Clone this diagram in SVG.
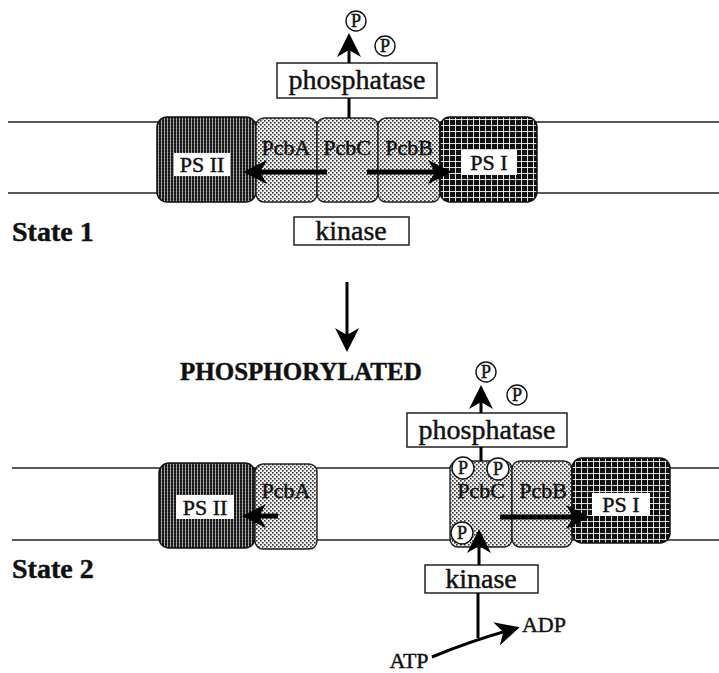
<svg xmlns="http://www.w3.org/2000/svg" width="719" height="673" viewBox="0 0 719 673">
<defs>
<style>
text{font-family:"Liberation Serif","Times New Roman",serif;fill:#111;stroke:#111;stroke-width:0.45}
.lbl{font-size:22px;text-anchor:middle}
.big{font-size:28px;text-anchor:middle}
.state{font-size:28px;font-weight:bold}
.pt{font-size:18px;text-anchor:middle}
.mem{stroke:#222;stroke-width:1.6;fill:none}
.box{fill:#fff;stroke:#222;stroke-width:1.5}
.wl{fill:#fff}
.ps2{fill:url(#pPS2);stroke:#111;stroke-width:1.5}
.ps1{fill:url(#pPS1);stroke:#111;stroke-width:1.5}
.pcb{fill:url(#pPCB);stroke:#222;stroke-width:1.4}
.pc{fill:#fff;stroke:#111;stroke-width:1.4}
.thick{stroke:#000;stroke-width:5;fill:none;marker-end:url(#ah)}
.thin{stroke:#000;stroke-width:3;fill:none;marker-end:url(#ah)}
.line{stroke:#000;stroke-width:3;fill:none}
</style>
<pattern id="pPS2" width="3" height="3" patternUnits="userSpaceOnUse">
<rect width="3" height="3" fill="#151515"/>
<rect x="2" width="1" height="3" fill="#fff" opacity="0.6"/>
<rect y="2" width="3" height="1" fill="#fff" opacity="0.12"/>
</pattern>
<pattern id="pPS1" width="6" height="6" patternUnits="userSpaceOnUse">
<rect width="6" height="6" fill="#111"/>
<rect x="5" width="1" height="6" fill="#fff" opacity="0.85"/>
<rect y="5" width="6" height="1" fill="#fff" opacity="0.85"/>
</pattern>
<pattern id="pPCB" width="4" height="4" patternUnits="userSpaceOnUse">
<rect width="4" height="4" fill="#f2f2f2"/>
<rect x="0" y="0" width="1.6" height="1.6" fill="#333"/>
<rect x="2" y="2" width="1.6" height="1.6" fill="#333"/>
</pattern>
<marker id="ah" markerUnits="userSpaceOnUse" markerWidth="26" markerHeight="26" refX="14" refY="12" orient="auto" viewBox="0 0 26 26">
<path d="M0,0 L24,12 L0,24 L7,12 z" fill="#000"/>
</marker>
</defs>
<rect width="719" height="673" fill="#fff"/>

<g id="membranes">
<line class="mem" x1="8" y1="122" x2="719" y2="122"/>
<line class="mem" x1="8" y1="193" x2="719" y2="193"/>
<line class="mem" x1="12" y1="468" x2="719" y2="468"/>
<line class="mem" x1="12" y1="540" x2="719" y2="540"/>
</g>

<g id="s1-ps2"><rect class="ps2" x="157" y="117" width="99" height="85" rx="10"/><rect class="wl" x="174" y="153" width="56" height="23"/><text class="lbl" x="202" y="172">PS II</text></g>
<g id="s1-pcba"><rect class="pcb" x="256" y="118" width="61" height="84" rx="8"/><text class="lbl" x="286" y="155">PcbA</text></g>
<g id="s1-pcbc"><rect class="pcb" x="317" y="118" width="61" height="84" rx="8"/><text class="lbl" x="347" y="155">PcbC</text></g>
<g id="s1-pcbb"><rect class="pcb" x="378" y="118" width="62" height="84" rx="8"/><text class="lbl" x="409" y="155">PcbB</text></g>
<g id="s1-ps1"><rect class="ps1" x="440" y="117" width="97" height="85" rx="10"/><rect class="wl" x="461" y="150" width="56" height="25"/><text class="lbl" x="489" y="170">PS I</text></g>
<g id="s1-phosphatase"><rect class="box" x="277" y="63" width="160" height="35"/><text class="big" x="357" y="89">phosphatase</text></g>
<g id="s1-kinase"><rect class="box" x="294" y="217" width="115" height="28"/><text class="big" x="351" y="240">kinase</text></g>
<g id="s1-p1"><circle class="pc" cx="356" cy="21" r="10"/><text class="pt" x="356" y="27">P</text></g>
<g id="s1-p2"><circle class="pc" cx="385" cy="46" r="10"/><text class="pt" x="385" y="52">P</text></g>
<g id="s1-label"><text class="state" x="12" y="241">State 1</text></g>

<g id="transition">
<text class="state" x="180" y="380" style="font-size:25px">PHOSPHORYLATED</text>
</g>

<g id="s2-ps2"><rect class="ps2" x="159" y="463" width="96" height="85" rx="10"/><rect class="wl" x="176" y="495" width="58" height="24"/><text class="lbl" x="205" y="515">PS II</text></g>
<g id="s2-pcba"><rect class="pcb" x="255" y="464" width="62" height="85" rx="8"/><text class="lbl" x="286" y="498">PcbA</text></g>
<g id="s2-pcbc"><rect class="pcb" x="450" y="461" width="62" height="86" rx="8"/><text class="lbl" x="481" y="498">PcbC</text></g>
<g id="s2-pcbb"><rect class="pcb" x="512" y="461" width="60" height="86" rx="8"/><text class="lbl" x="543" y="498">PcbB</text></g>
<g id="s2-ps1"><rect class="ps1" x="572" y="458" width="98" height="85" rx="10"/><rect class="wl" x="592" y="493" width="58" height="23"/><text class="lbl" x="621" y="512">PS I</text></g>
<g id="s2-phosphatase"><rect class="box" x="407" y="413" width="160" height="34"/><text class="big" x="487" y="439">phosphatase</text></g>
<g id="s2-kinase"><rect class="box" x="425" y="565" width="113" height="28"/><text class="big" x="481" y="588">kinase</text></g>
<g id="s2-p1"><circle class="pc" cx="486" cy="372" r="10"/><text class="pt" x="486" y="378">P</text></g>
<g id="s2-p2"><circle class="pc" cx="517" cy="395" r="10"/><text class="pt" x="517" y="401">P</text></g>
<g id="s2-pc1"><circle class="pc" cx="463" cy="468" r="11"/><text class="pt" x="463" y="474">P</text></g>
<g id="s2-pc2"><circle class="pc" cx="498" cy="469" r="11"/><text class="pt" x="498" y="475">P</text></g>
<g id="s2-pc3"><circle class="pc" cx="462" cy="533" r="11"/><text class="pt" x="462" y="539">P</text></g>
<g id="s2-atp"><text class="lbl" x="409" y="668">ATP</text></g>
<g id="s2-adp"><text class="lbl" x="544" y="632">ADP</text></g>
<g id="s2-label"><text class="state" x="12" y="578">State 2</text></g>

<g id="connectors">
<line class="thick" x1="327" y1="172" x2="253" y2="172"/>
<line class="thick" x1="367" y1="172" x2="442" y2="172"/>
<line class="line" x1="349" y1="118" x2="349" y2="98"/>
<line class="thin" x1="349" y1="63" x2="349" y2="43"/>
<line class="thin" x1="347" y1="282" x2="347" y2="342"/>
<line class="thick" x1="278" y1="516" x2="252" y2="516"/>
<line class="thick" x1="500" y1="517" x2="580" y2="517"/>
<line class="line" x1="481" y1="447" x2="481" y2="461"/>
<line class="thin" x1="481" y1="413" x2="481" y2="395"/>
<line class="thin" x1="479" y1="565" x2="479" y2="539"/>
<line class="line" x1="478" y1="593" x2="478" y2="638"/>
<path class="thin" d="M432,657 Q468,642 510,630"/>
</g>
</svg>
